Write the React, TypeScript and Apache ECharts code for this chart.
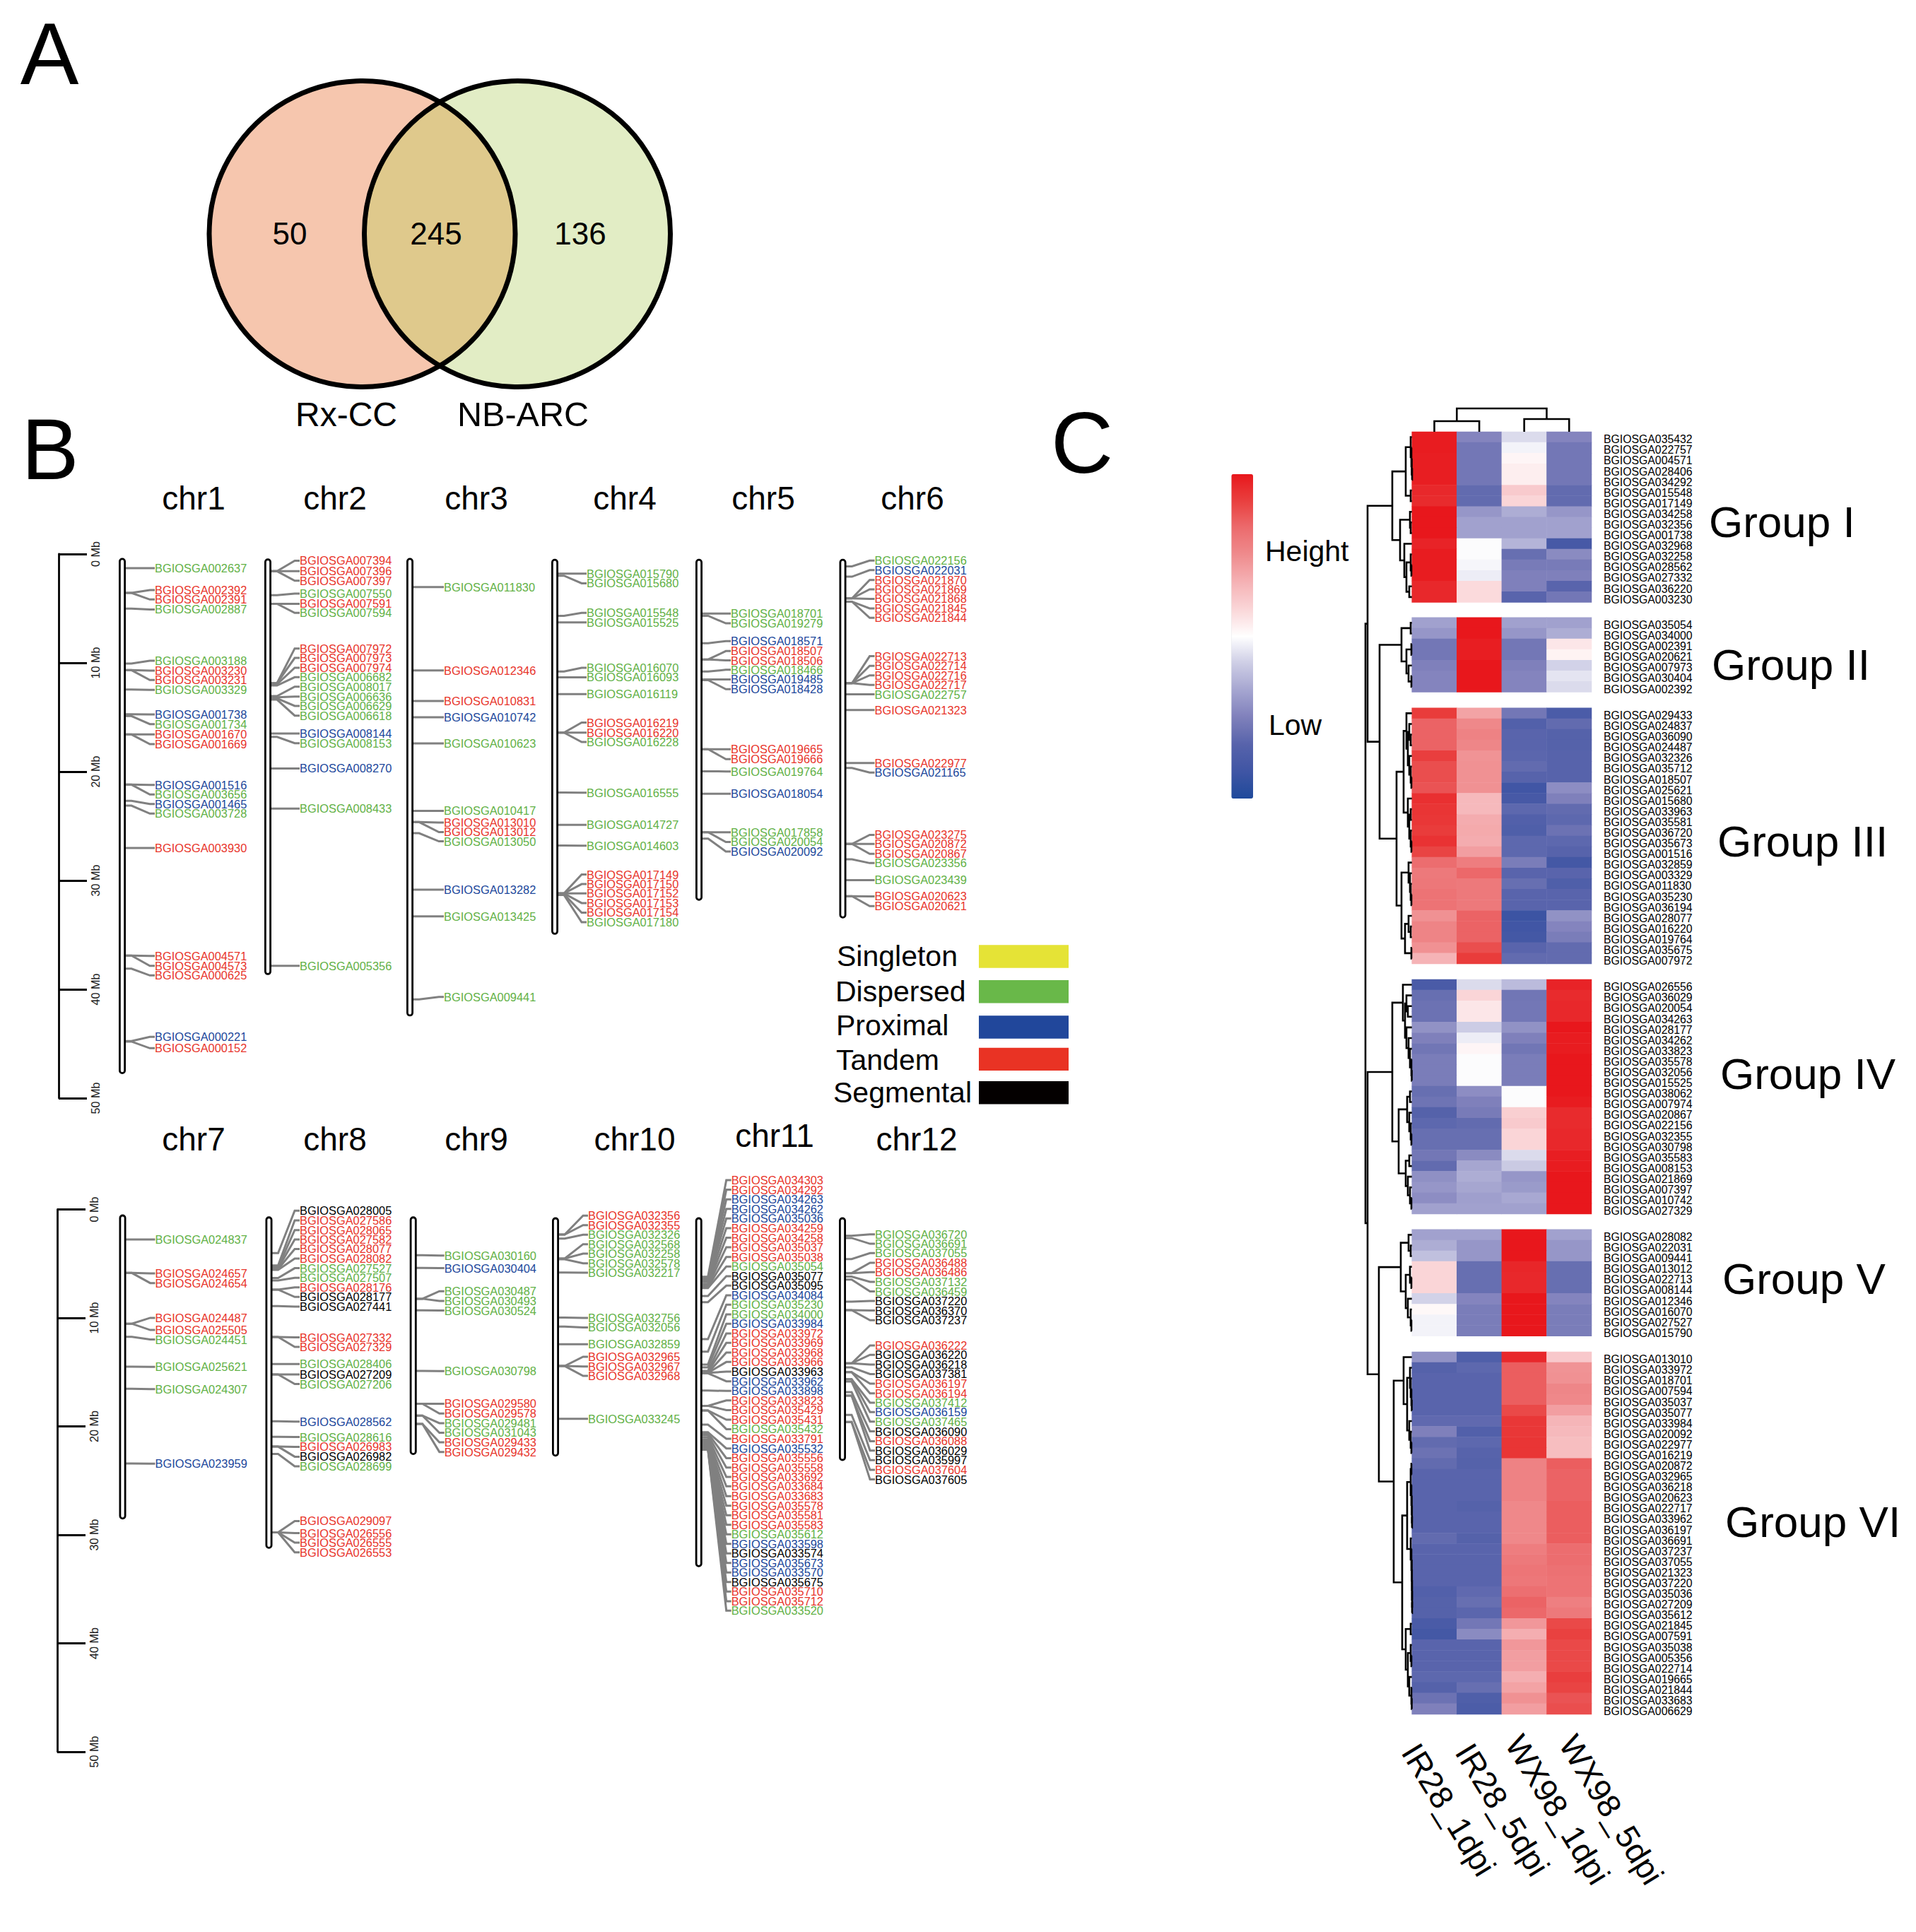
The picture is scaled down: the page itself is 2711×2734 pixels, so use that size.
import React, { useEffect, useRef } from "react";
import * as echarts from "echarts";

const FONT = "'Liberation Sans', Arial, sans-serif";
const W = 2711;
const H = 2734;

type Gene = [string, string, number, number];

// ---------- venn ----------
const vennCounts = ["50", "245", "136"];
const vennNames = ["Rx-CC", "NB-ARC"];

// ---------- gene classes ----------
const classNames = ["Singleton", "Dispersed", "Proximal", "Tandem", "Segmental"];
const classColors = ["#e5e336", "#69b849", "#21479b", "#e93324", "#040000"];
const classText: Record<string, string> = { D: "#62b146", T: "#e8352b", P: "#20479b", S: "#000000" };

// ---------- chromosomes: [gene, class, gene position Mb, label position Mb] ----------
const topChrNames = ["chr1", "chr2", "chr3", "chr4", "chr5", "chr6"];
const bottomChrNames = ["chr7", "chr8", "chr9", "chr10", "chr11", "chr12"];
const topChrStart = [0.45, 0.5, 0.45, 0.53, 0.53, 0.53];
const topChrEnd = [47.7, 38.6, 42.4, 34.9, 31.77, 33.4];
const bottomChrStart = [0.56, 0.74, 0.74, 0.82, 0.82, 0.82];
const bottomChrEnd = [28.5, 31.2, 22.55, 22.7, 32.9, 23.1];

const chr1: Gene[] = [
  ["BGIOSGA002637","D",1.3,1.3],["BGIOSGA002392","T",3.57,3.31],["BGIOSGA002391","T",3.57,4.18],["BGIOSGA002887","D",5.02,5.09],
  ["BGIOSGA003188","D",10.06,9.81],["BGIOSGA003230","T",10.67,10.71],["BGIOSGA003231","T",10.67,11.58],["BGIOSGA003329","D",12.45,12.49],
  ["BGIOSGA001738","P",14.72,14.74],["BGIOSGA001734","D",14.89,15.63],["BGIOSGA001670","T",16.58,16.58],["BGIOSGA001669","T",16.58,17.47],
  ["BGIOSGA001516","P",21.19,21.21],["BGIOSGA003656","D",21.19,22.1],["BGIOSGA001465","P",22.68,22.97],["BGIOSGA003728","D",23.12,23.85],
  ["BGIOSGA003930","T",27.01,27.01],["BGIOSGA004571","T",36.9,36.93],["BGIOSGA004573","T",36.9,37.84],["BGIOSGA000625","T",38.1,38.72],
  ["BGIOSGA000221","P",44.76,44.37],["BGIOSGA000152","T",44.8,45.41],
];
const chr2: Gene[] = [
  ["BGIOSGA007394","T",1.58,0.61],["BGIOSGA007396","T",1.58,1.58],["BGIOSGA007397","T",1.58,2.45],["BGIOSGA007550","D",3.79,3.64],
  ["BGIOSGA007591","T",4.57,4.57],["BGIOSGA007594","D",4.57,5.41],["BGIOSGA007972","T",11.86,8.68],["BGIOSGA007973","T",11.86,9.55],
  ["BGIOSGA007974","T",11.97,10.45],["BGIOSGA006682","D",12.08,11.32],["BGIOSGA008017","D",13.05,12.19],["BGIOSGA006636","D",13.16,13.1],
  ["BGIOSGA006629","D",13.27,13.96],["BGIOSGA006618","D",13.38,14.85],["BGIOSGA008144","P",16.5,16.5],["BGIOSGA008153","D",16.8,17.38],
  ["BGIOSGA008270","P",19.7,19.7],["BGIOSGA008433","D",23.4,23.4],["BGIOSGA005356","D",37.84,37.84],
];
const chr3: Gene[] = [
  ["BGIOSGA011830","D",3.04,3.04],["BGIOSGA012346","T",10.7,10.7],["BGIOSGA010831","T",13.5,13.5],["BGIOSGA010742","P",15.0,15.0],
  ["BGIOSGA010623","D",17.4,17.4],["BGIOSGA010417","D",23.6,23.6],["BGIOSGA013010","T",24.63,24.68],["BGIOSGA013012","T",24.63,25.55],
  ["BGIOSGA013050","D",25.65,26.4],["BGIOSGA013282","P",30.85,30.85],["BGIOSGA013425","D",33.3,33.3],["BGIOSGA009441","D",40.93,40.7],
];
const chr4: Gene[] = [
  ["BGIOSGA015790","D",1.8,1.8],["BGIOSGA015680","D",1.99,2.69],["BGIOSGA015548","D",5.68,5.4],["BGIOSGA015525","D",6.28,6.28],
  ["BGIOSGA016070","D",10.8,10.45],["BGIOSGA016093","D",11.33,11.33],["BGIOSGA016119","D",12.87,12.87],["BGIOSGA016219","T",16.41,15.49],
  ["BGIOSGA016220","T",16.41,16.41],["BGIOSGA016228","D",16.41,17.27],["BGIOSGA016555","D",21.91,21.93],["BGIOSGA014727","D",24.88,24.88],
  ["BGIOSGA014603","D",26.78,26.8],["BGIOSGA017149","T",31.19,29.45],["BGIOSGA017150","T",31.19,30.33],["BGIOSGA017152","T",31.19,31.19],
  ["BGIOSGA017153","T",31.19,32.07],["BGIOSGA017154","T",31.26,32.95],["BGIOSGA017180","D",31.33,33.83],
];
const chr5: Gene[] = [
  ["BGIOSGA018701","D",5.47,5.47],["BGIOSGA019279","D",5.68,6.37],["BGIOSGA018571","P",8.2,8.0],["BGIOSGA018507","T",9.69,8.92],
  ["BGIOSGA018506","T",9.69,9.78],["BGIOSGA018466","D",10.8,10.64],["BGIOSGA019485","P",11.52,11.52],["BGIOSGA018428","P",11.59,12.42],
  ["BGIOSGA019665","T",17.94,17.94],["BGIOSGA019666","T",17.94,18.85],["BGIOSGA019764","D",19.96,19.98],["BGIOSGA018054","P",22.03,22.03],
  ["BGIOSGA017858","D",25.57,25.57],["BGIOSGA020054","D",25.57,26.46],["BGIOSGA020092","P",26.15,27.34],
];
const chr6: Gene[] = [
  ["BGIOSGA022156","D",1.13,0.6],["BGIOSGA022031","P",2.08,1.48],["BGIOSGA021870","T",4.08,2.38],["BGIOSGA021869","T",4.08,3.24],
  ["BGIOSGA021868","T",4.08,4.12],["BGIOSGA021845","T",4.38,5.0],["BGIOSGA021844","T",4.38,5.86],["BGIOSGA022713","T",11.87,9.39],
  ["BGIOSGA022714","T",11.87,10.27],["BGIOSGA022716","T",11.87,11.15],["BGIOSGA022717","T",11.87,12.03],["BGIOSGA022757","D",12.89,12.89],
  ["BGIOSGA021323","T",14.33,14.33],["BGIOSGA022977","T",19.2,19.2],["BGIOSGA021165","P",19.66,20.08],["BGIOSGA023275","T",26.64,25.81],
  ["BGIOSGA020872","T",26.64,26.64],["BGIOSGA020867","T",26.64,27.55],["BGIOSGA023356","D",28.06,28.4],["BGIOSGA023439","D",29.96,29.96],
  ["BGIOSGA020623","T",31.44,31.46],["BGIOSGA020621","T",31.44,32.35],
];
const chr7: Gene[] = [
  ["BGIOSGA024837","D",2.77,2.77],["BGIOSGA024657","T",5.86,5.91],["BGIOSGA024654","T",5.86,6.79],["BGIOSGA024487","T",10.54,10.0],
  ["BGIOSGA025505","T",10.54,11.12],["BGIOSGA024451","D",11.75,12.0],["BGIOSGA025621","D",14.5,14.52],["BGIOSGA024307","D",16.54,16.57],
  ["BGIOSGA023959","P",23.43,23.45],
];
const chr8: Gene[] = [
  ["BGIOSGA028005","S",4.03,0.12],["BGIOSGA027586","T",5.17,1.02],["BGIOSGA028065","T",5.35,1.91],["BGIOSGA027582","T",5.44,2.77],
  ["BGIOSGA028077","T",5.51,3.65],["BGIOSGA028082","T",5.58,4.54],["BGIOSGA027527","D",6.33,5.42],["BGIOSGA027507","D",6.56,6.31],
  ["BGIOSGA028176","T",7.4,7.19],["BGIOSGA028177","S",7.4,8.07],["BGIOSGA027441","S",8.91,8.96],["BGIOSGA027332","T",11.77,11.8],
  ["BGIOSGA027329","T",11.77,12.68],["BGIOSGA028406","D",14.26,14.26],["BGIOSGA027209","S",15.22,15.22],["BGIOSGA027206","D",15.22,16.1],
  ["BGIOSGA028562","P",19.54,19.57],["BGIOSGA028616","D",20.96,20.99],["BGIOSGA026983","T",21.87,21.89],["BGIOSGA026982","S",21.87,22.8],
  ["BGIOSGA028699","D",22.55,23.69],["BGIOSGA029097","T",29.78,28.73],["BGIOSGA026556","T",29.78,29.85],["BGIOSGA026555","T",29.78,30.73],
  ["BGIOSGA026553","T",29.78,31.62],
];
const chr9: Gene[] = [
  ["BGIOSGA030160","D",4.23,4.26],["BGIOSGA030404","P",5.4,5.42],["BGIOSGA030487","D",8.24,7.54],["BGIOSGA030493","D",8.24,8.45],
  ["BGIOSGA030524","D",9.31,9.33],["BGIOSGA030798","D",14.89,14.91],["BGIOSGA029580","T",17.92,17.92],["BGIOSGA029578","T",17.92,18.82],
  ["BGIOSGA029481","D",19.01,19.71],["BGIOSGA031043","D",19.01,20.59],["BGIOSGA029433","T",19.78,21.48],["BGIOSGA029432","T",19.78,22.36],
];
const chr10: Gene[] = [
  ["BGIOSGA032356","T",2.32,0.58],["BGIOSGA032355","T",2.32,1.45],["BGIOSGA032326","D",2.69,2.34],["BGIOSGA032568","D",4.53,3.21],
  ["BGIOSGA032258","D",4.53,4.08],["BGIOSGA032578","D",4.6,4.97],["BGIOSGA032217","D",5.82,5.84],["BGIOSGA032756","D",9.98,10.0],
  ["BGIOSGA032056","D",10.81,10.88],["BGIOSGA032859","D",12.44,12.44],["BGIOSGA032965","T",14.44,13.59],["BGIOSGA032967","T",14.44,14.48],
  ["BGIOSGA032968","T",14.44,15.35],["BGIOSGA033245","D",19.3,19.3],
];
const chr11: Gene[] = [
  ["BGIOSGA034303","T",6.21,-2.7],["BGIOSGA034292","T",6.38,-1.81],["BGIOSGA034263","P",6.51,-0.92],["BGIOSGA034262","P",6.64,-0.05],
  ["BGIOSGA035036","P",6.68,0.84],["BGIOSGA034259","T",6.86,1.73],["BGIOSGA034258","T",6.97,2.62],["BGIOSGA035037","T",7.07,3.49],
  ["BGIOSGA035038","T",7.18,4.38],["BGIOSGA035054","D",7.25,5.27],["BGIOSGA035077","S",7.99,6.16],["BGIOSGA035095","S",8.55,7.03],
  ["BGIOSGA034084","P",11.96,7.92],["BGIOSGA035230","D",13.11,8.79],["BGIOSGA034000","D",14.31,9.68],["BGIOSGA033984","P",14.57,10.55],
  ["BGIOSGA033972","T",14.89,11.44],["BGIOSGA033969","T",15.0,12.31],["BGIOSGA033968","T",15.07,13.2],["BGIOSGA033966","T",15.07,14.07],
  ["BGIOSGA033963","S",15.07,14.96],["BGIOSGA033962","P",15.11,15.85],["BGIOSGA033898","P",16.7,16.74],["BGIOSGA033823","T",18.11,17.61],
  ["BGIOSGA035429","T",18.11,18.5],["BGIOSGA035431","T",18.54,19.39],["BGIOSGA035432","D",18.54,20.26],["BGIOSGA033791","T",19.85,21.15],
  ["BGIOSGA035532","P",20.54,22.04],["BGIOSGA035556","T",20.65,22.93],["BGIOSGA035558","T",20.8,23.8],["BGIOSGA033692","T",21.0,24.66],
  ["BGIOSGA033684","T",21.2,25.53],["BGIOSGA033683","T",21.3,26.44],["BGIOSGA035578","T",21.4,27.32],["BGIOSGA035581","T",21.5,28.2],
  ["BGIOSGA035583","T",21.6,29.08],["BGIOSGA035612","D",21.7,29.96],["BGIOSGA033598","P",21.8,30.83],["BGIOSGA033574","S",21.85,31.72],
  ["BGIOSGA035673","P",21.9,32.59],["BGIOSGA033570","P",21.95,33.48],["BGIOSGA035675","S",22.0,34.35],["BGIOSGA035710","T",22.05,35.24],
  ["BGIOSGA035712","T",22.1,36.13],["BGIOSGA033520","D",22.15,36.99],
];
const chr12: Gene[] = [
  ["BGIOSGA036720","D",2.43,2.3],["BGIOSGA036691","D",2.64,3.17],["BGIOSGA037055","D",4.58,4.03],["BGIOSGA036488","T",5.88,4.92],
  ["BGIOSGA036486","T",5.88,5.79],["BGIOSGA037132","D",6.2,6.68],["BGIOSGA036459","D",6.47,7.57],["BGIOSGA037220","S",8.51,8.44],
  ["BGIOSGA036370","S",9.29,9.33],["BGIOSGA037237","S",9.29,10.22],["BGIOSGA036222","T",14.2,12.55],["BGIOSGA036220","S",14.2,13.41],
  ["BGIOSGA036218","S",14.2,14.31],["BGIOSGA037381","S",14.57,15.18],["BGIOSGA036197","T",15.0,16.07],["BGIOSGA036194","T",15.0,16.96],
  ["BGIOSGA037412","D",15.65,17.82],["BGIOSGA036159","P",15.65,18.69],["BGIOSGA037465","D",15.87,19.56],["BGIOSGA036090","S",16.85,20.47],
  ["BGIOSGA036088","T",17.17,21.37],["BGIOSGA036029","S",17.17,22.23],["BGIOSGA035997","S",18.95,23.12],["BGIOSGA037604","T",19.6,24.01],
  ["BGIOSGA037605","S",19.6,24.9],
];

// ---------- heatmap ----------
const samples = ["IR28_1dpi", "IR28_5dpi", "WX98_1dpi", "WX98_5dpi"];
const groupNames = ["Group I", "Group II", "Group III", "Group IV", "Group V", "Group VI"];

const g1Genes = ["035432","022757","004571","028406","034292","015548","017149","034258","032356","001738","032968","032258","028562","027332","036220","003230"];
const g1Values = [
  [.98,-.48,-.12,-.48],[.98,-.55,-.04,-.55],[.97,-.55,.04,-.55],[.97,-.55,.07,-.55],[.97,-.55,.07,-.55],[.93,-.62,.22,-.62],[.92,-.62,.17,-.62],[1,-.4,-.3,-.4],
  [1,-.35,-.35,-.35],[1,-.35,-.35,-.35],[.95,-.01,-.27,-.78],[.98,-.01,-.6,-.45],[.98,-.03,-.53,-.53],[.98,-.06,-.5,-.5],[.93,.15,-.5,-.66],[.93,.15,-.66,-.55],
];
const g2Genes = ["035054","034000","002391","020621","007973","030404","002392"];
const g2Values = [
  [-.35,1,-.35,-.35],[-.4,1,-.4,-.3],[-.55,.97,-.55,.1],[-.55,.97,-.55,.05],[-.5,1,-.5,-.15],[-.48,1,-.48,-.09],[-.48,1,-.48,-.12],
];
const g3Genes = ["029433","024837","036090","024487","032326","035712","018507","025621","015680","033963","035581","036720","035673","001516","032859","003329","011830","035230","036194","028077","016220","019764","035675","007972"];
const g3Values = [
  [.85,.4,-.55,-.75],[.7,.52,-.7,-.62],[.7,.55,-.66,-.68],[.7,.53,-.66,-.68],[.84,.47,-.65,-.67],[.78,.48,-.62,-.67],[.78,.48,-.67,-.67],[.76,.48,-.82,-.44],
  [.9,.3,-.78,-.5],[.88,.3,-.64,-.62],[.87,.36,-.7,-.64],[.85,.37,-.72,-.58],[.89,.36,-.64,-.64],[.82,.42,-.64,-.67],[.66,.58,-.52,-.8],[.6,.68,-.66,-.66],
  [.61,.6,-.6,-.72],[.63,.6,-.66,-.66],[.63,.6,-.66,-.66],[.48,.7,-.85,-.42],[.54,.7,-.82,-.48],[.54,.7,-.8,-.52],[.48,.78,-.66,-.62],[.33,.85,-.62,-.62],
];
const g4Genes = ["026556","036029","020054","034263","028177","034262","033823","035578","032056","015525","038062","007974","020867","022156","032355","030798","035583","008153","021869","007397","010742","027329"];
const g4Values = [
  [-.76,-.12,-.24,.95],[-.6,.17,-.56,.92],[-.58,.1,-.55,.93],[-.58,.1,-.55,.93],[-.42,-.17,-.42,1],[-.5,-.06,-.5,.98],[-.56,.04,-.56,.98],[-.52,-.01,-.52,1],
  [-.52,-.01,-.52,1],[-.52,-.01,-.52,1],[-.6,-.44,-.01,1],[-.57,-.5,-.01,.98],[-.68,-.53,.2,.92],[-.64,-.62,.22,.92],[-.6,-.6,.17,.93],[-.6,-.6,.17,.93],
  [-.55,-.45,-.12,.97],[-.62,-.33,-.18,.98],[-.43,-.3,-.4,1],[-.4,-.33,-.38,1],[-.44,-.36,-.32,1],[-.35,-.35,-.35,1],
];
const g5Genes = ["028082","022031","009441","013012","022713","008144","012346","016070","027527","015790"];
const g5Values = [
  [-.35,-.35,1,-.35],[-.3,-.4,1,-.4],[-.22,-.4,1,-.4],[.17,-.6,.94,-.6],[.17,-.6,.93,-.6],[.17,-.6,.93,-.6],[-.15,-.48,1,-.48],[.03,-.52,1,-.52],[-.04,-.52,1,-.52],[-.04,-.52,1,-.52],
];
const g6Genes = ["013010","033972","018701","007594","035037","035077","033984","020092","022977","016219","020872","032965","036218","020623","022717","033962","036197","036691","037237","037055","021323","037220","035036","027209","035612","021845","007591","035038","005356","022714","019665","021844","033683","006629"];
const g6Values = [
  [-.42,-.72,.93,.23],[-.68,-.64,.72,.47],[-.66,-.66,.72,.48],[-.66,-.66,.72,.53],[-.66,-.66,.72,.52],[-.66,-.66,.8,.42],[-.63,-.63,.87,.32],[-.5,-.7,.87,.3],
  [-.62,-.64,.88,.28],[-.58,-.67,.88,.28],[-.62,-.68,.55,.72],[-.66,-.66,.55,.7],[-.66,-.66,.55,.7],[-.66,-.66,.55,.7],[-.66,-.68,.52,.72],[-.66,-.66,.52,.72],
  [-.66,-.66,.52,.72],[-.62,-.68,.52,.72],[-.66,-.66,.58,.66],[-.66,-.66,.6,.66],[-.66,-.66,.62,.64],[-.66,-.66,.61,.63],[-.7,-.63,.65,.63],[-.68,-.6,.7,.57],
  [-.68,-.65,.68,.6],[-.76,-.55,.45,.8],[-.8,-.45,.35,.83],[-.66,-.66,.45,.8],[-.66,-.66,.42,.8],[-.66,-.66,.42,.8],[-.64,-.64,.35,.84],[-.68,-.6,.4,.82],
  [-.58,-.72,.48,.76],[-.5,-.74,.42,.78],
];
const heatGenes = [g1Genes, g2Genes, g3Genes, g4Genes, g5Genes, g6Genes];
const heatValues = [g1Values, g2Values, g3Values, g4Values, g5Values, g6Values];
const heatColors = ["#1f4a9b", "#3f55a4", "#5763ab", "#7f80bb", "#a5a5d0", "#cdcde5", "#ffffff", "#fad6d8", "#f5b2b5", "#ef8c8e", "#ec6c6e", "#e9403f", "#e8171c"];

// dendrograms: [merge height, child, child]; a number child is a row (or column) index
type Tree = number | [number, Tree, Tree];
const rowTree: Tree = [1932,
  [1935,
    [1970,
      [1989, [1996, 0, [1997, 1, [1997.5, 2, [1998, 3, 4]]]], [1996, 5, 6]],
      [1981, [1995, 7, [1996, 8, 9]], [1987, 10, [1990, [1996, 11, [1997, 12, 13]], [1994, 14, 15]]]]],
    [1952,
      [1983, [1996, 16, 17], [1990, [1997, 18, 19], [1993, 20, [1997, 21, 22]]]],
      [1976,
        [1986, [1990, 23, [1992, [1994, 24, [1996, 25, 26]], [1994, 27, [1996, 28, [1997, 29, 30]]]]], [1992, 31, [1994, [1996, 32, 33], [1996, 34, [1997, 35, 36]]]]],
        [1983, [1993, 37, [1995, 38, [1996, 39, [1997, 40, 41]]]], [1988, [1993, 42, [1996, 43, 44]], [1997, 45, 46]]]]]],
  [1935,
    [1970,
      [1985, 47, [1988, [1990, 48, [1992, 49, 50]], [1990, 51, [1993, 52, [1995, 53, [1997, 54, [1997.5, 55, 56]]]]]]],
      [1979, [1991, [1995, 57, 58], [1994, 59, [1996, 60, [1997, 61, 62]]]], [1989, [1994, 63, 64], [1992, 65, [1995, 66, [1997, 67, 68]]]]]],
    [1951,
      [1982, [1993, 69, [1996, 70, 71]], [1989, [1995, 72, [1997, 73, 74]], [1992, 75, [1996, 76, [1997, 77, 78]]]]],
      [1972,
        [1986, 79, [1991, [1995, 80, [1996, 81, [1997, 82, [1997.5, 83, 84]]]], [1994, 85, [1996, 86, [1997, 87, 88]]]]],
        [1984,
          [1991, [1996, [1997, 89, 90], [1997, 91, [1997.5, 92, [1997.8, 93, [1997.9, 94, 95]]]]], [1996, 96, [1997, 97, [1997.5, 98, [1997.8, 99, [1997.9, 100, [1998, 101, [1998, 102, 103]]]]]]]],
          [1989, [1996, 104, 105], [1992, [1996, 106, [1997, 107, 108]], [1994, 109, [1997, 110, [1997.5, 111, 112]]]]]]]]]];
const columnTree: Tree = [578, [596, 0, 1], [593, 2, 3]];

// ---------- layout ----------
const topChrX = [173, 379, 580, 785, 989, 1192.5];
const bottomChrX = [173.5, 380.5, 584.7, 786, 988.7, 1192];
const topLabelDx = [46, 45, 48, 45, 45, 45];
const bottomLabelDx = [46, 43.5, 44, 46, 46, 46];
const topChrLabelX = [274, 474, 674, 884, 1080, 1291];
const bottomChrLabelX = [274, 474, 674, 898, 1096, 1297];
const heatLeft = 1997.7;
const heatRight = 2252;
const heatLabelX = 2269;
const heatLabelDy = 3.2;
const groupTops = [611, 873.8, 1001.8, 1386, 1739.8, 1912.9];
const rowPitch = 15.09;
const groupNameX = [2418, 2422, 2430, 2434, 2437, 2441];
const groupNameY = [738, 940, 1190, 1519, 1809, 2153];
const sampleLabelX = [2050, 2126, 2204, 2280];
const sampleLabelY = 2561;

function buildDendro(tree: Tree, pos: (i: number) => number, leafH: number) {
  const segs: number[][] = [];
  const walk = (n: Tree): { p: number; h: number } => {
    if (typeof n === "number") return { p: pos(n), h: leafH };
    const a = walk(n[1]);
    const b = walk(n[2]);
    segs.push([a.h, a.p, n[0], b.p, b.h]);
    return { p: (a.p + b.p) / 2, h: n[0] };
  };
  walk(tree);
  return segs;
}

function rowCenter(i: number) {
  let k = i;
  for (let g = 0; g < heatGenes.length; g++) {
    if (k < heatGenes[g].length) return groupTops[g] + (k + 0.5) * rowPitch;
    k -= heatGenes[g].length;
  }
  return 0;
}

function panelAxis(gridIndex: number) {
  return {
    type: "value", gridIndex, min: 0, max: 50, interval: 10, inverse: true, position: "left",
    axisLine: { show: true, lineStyle: { color: "#000", width: 2.8 } },
    axisTick: { show: true, inside: true, length: 40, lineStyle: { color: "#000", width: 2.8 } },
    splitLine: { show: false },
    axisLabel: { inside: true, rotate: 90, margin: 52, fontSize: 16.2, fontFamily: FONT, color: "#222", formatter: "{value} Mb", align: "center", verticalAlign: "middle" },
  };
}

function panelSeries(gridIndex: number, xs: number[], dx: number[], starts: number[], ends: number[], genes: Gene[][]) {
  const chrData = xs.map((x, i) => [x, starts[i], ends[i]]);
  const flat: { cx: number; dx: number; g: Gene }[] = [];
  genes.forEach((list, i) => list.forEach((g) => flat.push({ cx: xs[i], dx: dx[i], g })));
  const geneData = flat.map((f) => [f.cx, f.g[2], f.g[3]]);
  return [
    {
      type: "custom", xAxisIndex: gridIndex, yAxisIndex: gridIndex, clip: false, silent: true, data: geneData, encode: { x: 0, y: 1 }, z: 2,
      renderItem: (p: any, api: any) => {
        const a = api.coord([api.value(0), api.value(1)]);
        const b = api.coord([api.value(0), api.value(2)]);
        const d = flat[p.dataIndex].dx;
        return {
          type: "polyline",
          shape: { points: [[a[0] + 4, a[1]], [a[0] + 13, a[1]], [a[0] + d - 7, b[1]], [a[0] + d, b[1]]] },
          style: { stroke: "#808080", lineWidth: 3, fill: "none" },
        };
      },
    },
    {
      type: "custom", xAxisIndex: gridIndex, yAxisIndex: gridIndex, clip: false, silent: true, data: chrData, encode: { x: 0, y: 1 }, z: 3,
      renderItem: (_p: any, api: any) => {
        const a = api.coord([api.value(0), api.value(1)]);
        const b = api.coord([api.value(0), api.value(2)]);
        return {
          type: "rect",
          shape: { x: a[0] - 3.6, y: a[1], width: 7.2, height: b[1] - a[1], r: 3.6 },
          style: { fill: "#fff", stroke: "#000", lineWidth: 2.8 },
        };
      },
    },
    {
      type: "custom", xAxisIndex: gridIndex, yAxisIndex: gridIndex, clip: false, silent: true, data: geneData, encode: { x: 0, y: 2 }, z: 4,
      renderItem: (p: any, api: any) => {
        const b = api.coord([api.value(0), api.value(2)]);
        const f = flat[p.dataIndex];
        return {
          type: "text",
          style: { x: b[0] + f.dx, y: b[1], text: f.g[0], fill: classText[f.g[1]], fontSize: 16.4, fontFamily: FONT, verticalAlign: "middle", align: "left" },
        };
      },
    },
  ];
}

export default function App() {
  const ref = useRef<HTMLDivElement>(null);
  useEffect(() => {
    document.body.style.margin = "0";
    const chart = echarts.init(ref.current!, undefined, { renderer: "svg", width: W, height: H });

    const cxL = 512.5, cxR = 732, cy = 331, rV = 216.5, hV = 186.7;
    const xC = (cxL + cxR) / 2;
    const lensD = `M ${xC} ${cy - hV} A ${rV} ${rV} 0 0 1 ${xC} ${cy + hV} A ${rV} ${rV} 0 0 1 ${xC} ${cy - hV} Z`;
    echarts.graphic.registerShape("lens", echarts.graphic.extendPath(lensD as any, {}) as any);

    const txt = (text: string, x: number, y: number, fontSize: number, align = "left", rotation = 0) => ({
      type: "text", x, y, rotation, silent: true,
      style: { text, fontSize, fontFamily: FONT, fill: "#000", textAlign: align, textVerticalAlign: "middle", align, verticalAlign: "middle" },
    });

    const legendY = [1337.3, 1387, 1437.3, 1482.7, 1530];
    const legendTextY = [1353, 1403, 1451, 1500, 1546];
    const legendTextX = [1184, 1182, 1183, 1183, 1179];

    const graphic: any[] = [
      { type: "circle", shape: { cx: cxL, cy, r: rV }, style: { fill: "#f6c6ae" }, silent: true },
      { type: "circle", shape: { cx: cxR, cy, r: rV }, style: { fill: "#e2edc5" }, silent: true },
      { type: "lens", x: 0, y: 0, style: { fill: "#dfc98c" }, silent: true },
      { type: "circle", shape: { cx: cxL, cy, r: rV }, style: { fill: "none", stroke: "#000", lineWidth: 7 }, silent: true },
      { type: "circle", shape: { cx: cxR, cy, r: rV }, style: { fill: "none", stroke: "#000", lineWidth: 7 }, silent: true },
      txt(vennCounts[0], 410, 330, 44, "center"),
      txt(vennCounts[1], 617, 330, 44, "center"),
      txt(vennCounts[2], 821, 330, 44, "center"),
      txt(vennNames[0], 490, 586, 48, "center"),
      txt(vennNames[1], 740, 586, 48.5, "center"),
      txt("A", 70, 76, 124, "center"),
      txt("B", 71, 636, 122, "center"),
      txt("C", 1531, 627, 122, "center"),
      txt("Height", 1790, 780, 41),
      txt("Low", 1795, 1026, 41),
    ];
    topChrNames.forEach((n, i) => graphic.push(txt(n, topChrLabelX[i], 705, 46, "center")));
    bottomChrNames.forEach((n, i) => graphic.push(txt(n, bottomChrLabelX[i], n === "chr11" ? 1607 : 1612, 46, "center")));
    classNames.forEach((n, i) => {
      graphic.push(txt(n, legendTextX[i], legendTextY[i], 41));
      graphic.push({ type: "rect", shape: { x: 1385, y: legendY[i], width: 127, height: 32.4 }, style: { fill: classColors[i] }, silent: true });
    });
    groupNames.forEach((n, i) => graphic.push(txt(n, groupNameX[i], groupNameY[i], 62)));
    samples.forEach((n, i) => graphic.push(txt(n, sampleLabelX[i], sampleLabelY, 46, "center", -1.02)));

    const rowSegs = buildDendro(rowTree, rowCenter, heatLeft);
    const colW = (heatRight - heatLeft) / 4;
    const colSegs = buildDendro(columnTree, (i) => heatLeft + (i + 0.5) * colW, groupTops[0]);

    const grids: any[] = [
      { left: 0, top: 0, width: W, height: H },
      { left: 83, top: 784, width: W - 83, height: 770 },
      { left: 81, top: 1711.4, width: W - 81, height: 767.5 },
    ];
    const xAxes: any[] = [
      { type: "value", gridIndex: 0, min: 0, max: W, show: false },
      { type: "value", gridIndex: 1, min: 83, max: W, show: false },
      { type: "value", gridIndex: 2, min: 81, max: W, show: false },
    ];
    const yAxes: any[] = [
      { type: "value", gridIndex: 0, min: 0, max: H, inverse: true, show: false },
      panelAxis(1),
      panelAxis(2),
    ];

    const series: any[] = [
      {
        type: "custom", xAxisIndex: 0, yAxisIndex: 0, clip: false, silent: true, data: rowSegs, encode: { x: 0, y: 1 }, z: 5,
        renderItem: (_p: any, api: any) => {
          const pts = [
            api.coord([api.value(0), api.value(1)]),
            api.coord([api.value(2), api.value(1)]),
            api.coord([api.value(2), api.value(3)]),
            api.coord([api.value(4), api.value(3)]),
          ];
          return { type: "polyline", shape: { points: pts }, style: { stroke: "#000", lineWidth: 2.6, fill: "none" } };
        },
      },
      {
        type: "custom", xAxisIndex: 0, yAxisIndex: 0, clip: false, silent: true, data: colSegs, encode: { x: 1, y: 0 }, z: 5,
        renderItem: (_p: any, api: any) => {
          const pts = [
            api.coord([api.value(1), api.value(0)]),
            api.coord([api.value(1), api.value(2)]),
            api.coord([api.value(3), api.value(2)]),
            api.coord([api.value(3), api.value(4)]),
          ];
          return { type: "polyline", shape: { points: pts }, style: { stroke: "#000", lineWidth: 2.6, fill: "none" } };
        },
      },
      ...panelSeries(1, topChrX, topLabelDx, topChrStart, topChrEnd, [chr1, chr2, chr3, chr4, chr5, chr6]),
      ...panelSeries(2, bottomChrX, bottomLabelDx, bottomChrStart, bottomChrEnd, [chr7, chr8, chr9, chr10, chr11, chr12]),
    ];

    const heatSeriesIdx: number[] = [];
    heatGenes.forEach((genes, g) => {
      const gi = grids.length;
      const names = genes.map((s) => "BGIOSGA" + s);
      grids.push({ left: heatLeft, top: groupTops[g], width: heatRight - heatLeft, height: genes.length * rowPitch });
      xAxes.push({ type: "category", gridIndex: gi, data: samples, show: false });
      yAxes.push({ type: "category", gridIndex: gi, data: names, inverse: true, show: false });
      const data: number[][] = [];
      heatValues[g].forEach((row, r) => row.forEach((v, c) => data.push([c, r, v])));
      heatSeriesIdx.push(series.length);
      series.push({ type: "heatmap", xAxisIndex: gi, yAxisIndex: gi, data, silent: true, itemStyle: { borderWidth: 0 } });
      series.push({
        type: "custom", xAxisIndex: gi, yAxisIndex: gi, clip: false, silent: true, z: 6,
        data: names.map((_, r) => [3, r]), encode: { x: 0, y: 1 },
        renderItem: (p: any, api: any) => {
          const c = api.coord([3, api.value(1)]);
          return {
            type: "text",
            style: { x: heatLabelX, y: c[1] + heatLabelDy, text: names[p.dataIndex], fill: "#000", fontSize: 15.8, fontFamily: FONT, verticalAlign: "middle", align: "left" },
          };
        },
      });
    });

    chart.setOption({
      animation: false,
      backgroundColor: "#fff",
      grid: grids,
      xAxis: xAxes,
      yAxis: yAxes,
      visualMap: {
        type: "continuous", min: -1, max: 1, seriesIndex: heatSeriesIdx, show: true, calculable: false, hoverLink: false,
        left: 1742.3, top: 671, itemWidth: 30.7, itemHeight: 459, padding: 0, orient: "vertical", text: [],
        inRange: { color: heatColors }, textStyle: { fontSize: 0, color: "transparent" },
      },
      graphic,
      series,
    });
    return () => chart.dispose();
  }, []);
  return <div ref={ref} style={{ width: W, height: H }} />;
}
